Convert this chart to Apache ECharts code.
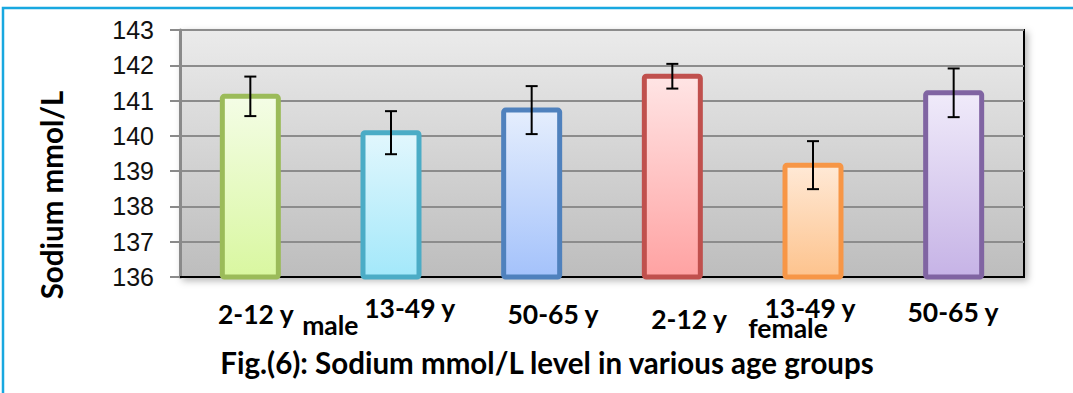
<!DOCTYPE html>
<html><head><meta charset="utf-8">
<script src="https://cdn.jsdelivr.net/npm/echarts@6/dist/echarts.min.js"></script>
<style>html,body{margin:0;padding:0;background:#fff;overflow:hidden}#c{width:1073px;height:393px}</style>
</head><body><div id="c"></div>
<script>
// ---- data ----
const categories = ['2-12 y', '13-49 y', '50-65 y', '2-12 y', '13-49 y', '50-65 y'];
const groupLabels = ['male', 'female'];
const sodiumMean = [141.12, 140.09, 140.73, 141.69, 139.17, 141.22];
const sodiumSD = [0.56, 0.61, 0.68, 0.35, 0.68, 0.69];
const yMin = 136, yMax = 143, yStep = 1;
const yAxisTitle = 'Sodium mmol/L';
const figTitle = 'Fig.(6): Sodium mmol/L level in various age groups';

// ---- styles ----
const barBorder = ['#9bbb59', '#4bacc6', '#4f81bd', '#c0504d', '#f79646', '#8064a2'];
const barFillTop = ['#f4fde6', '#e2f7fd', '#e5eefd', '#ffe5e5', '#ffe9d6', '#f0ebfa'];
const barFillBot = ['#d9f7a0', '#a3e8fa', '#a4c2fb', '#ffa2a2', '#fdc38d', '#c6b3e6'];
// label placement (pixel offsets from bar centre / plot bottom)
const catDx = [5.5, 18.7, 21.3, 16.7, -3, -0.7];
const catDy = [37, 30.5, 37, 42, 30.5, 34.7];
const groupAt = [{cat: 0, dx: 80, dy: 48}, {cat: 4, dx: -25, dy: 51}];
const CAT_FONT = 'bold 26.5px Lato';
const TITLE_FONT = 'bold 29.5px Lato';
const YTITLE_FONT = 'bold 29.5px Lato';
const BAR_W = 56, BAR_LINE = 5;

const chart = echarts.init(document.getElementById('c'), null, {renderer: 'svg'});

const grad = (a, b) => new echarts.graphic.LinearGradient(0, 0, 0, 1, [{offset: 0, color: a}, {offset: 1, color: b}]);

const GRID = {left: 180, right: 49, top: 30, bottom: 116};

chart.setOption({
  animation: false,
  grid: Object.assign({
    show: true,
    backgroundColor: grad('#ebebeb', '#bdbdbd'),
    borderColor: '#000', borderWidth: 2,
    shadowColor: 'rgba(0,0,0,0.28)', shadowBlur: 7, shadowOffsetX: 3, shadowOffsetY: 3
  }, GRID),
  xAxis: {
    type: 'category', data: categories,
    axisLine: {show: true, lineStyle: {color: '#000', width: 2}},
    axisTick: {show: false}, axisLabel: {show: false}, splitLine: {show: false}
  },
  yAxis: {
    type: 'value', min: yMin, max: yMax, interval: yStep,
    axisLine: {show: true, lineStyle: {color: '#8a8a8a', width: 3}},
    axisTick: {show: true, length: 10, lineStyle: {color: '#8a8a8a', width: 2}},
    axisLabel: {margin: 26, fontFamily: 'Liberation Sans', fontSize: 25, color: '#111'},
    splitLine: {show: true, lineStyle: {color: '#8c8c8c', width: 2}}
  },
  series: [
    {
      // bars: stroke centred on the value edge (as in the source chart)
      type: 'custom', z: 3, clip: false,
      data: sodiumMean.map((v, i) => [i, v]),
      encode: {x: 0, y: 1},
      renderItem(params, api) {
        const i = api.value(0), m = api.value(1);
        const top = api.coord([i, m]), base = api.coord([i, yMin]);
        return {
          type: 'rect',
          shape: {x: top[0] - BAR_W / 2, y: top[1], width: BAR_W, height: base[1] - top[1], r: 2},
          style: {fill: grad(barFillTop[i], barFillBot[i]), stroke: barBorder[i], lineWidth: BAR_LINE, lineJoin: 'round'}
        };
      }
    },
    {
      type: 'custom', z: 5,
      data: sodiumMean.map((v, i) => [i, v, sodiumSD[i]]),
      encode: {x: 0, y: 1},
      renderItem(params, api) {
        const i = api.value(0), m = api.value(1), e = api.value(2);
        const hi = api.coord([i, m + e]), lo = api.coord([i, m - e]);
        const hw = 6, st = {stroke: '#000', lineWidth: 2};
        return {type: 'group', children: [
          {type: 'line', shape: {x1: hi[0], y1: hi[1], x2: lo[0], y2: lo[1]}, style: st},
          {type: 'line', shape: {x1: hi[0] - hw, y1: hi[1], x2: hi[0] + hw, y2: hi[1]}, style: st},
          {type: 'line', shape: {x1: lo[0] - hw, y1: lo[1], x2: lo[0] + hw, y2: lo[1]}, style: st}
        ]};
      }
    }
  ]
});

// text placed via the library's axis scale
const H = 393, bottomY = H - GRID.bottom;
const txt = (text, x, y, font, extra) => Object.assign({
  type: 'text', x: x, y: y, z: 10,
  style: {text: text, font: font, fill: '#000', textAlign: 'center', textVerticalAlign: 'middle', align: 'center', verticalAlign: 'middle'}
}, extra || {});
const g = [];
g.push({type: 'rect', z: -1, shape: {x: 3, y: 8, width: 1200, height: 500}, style: {fill: 'none', stroke: '#18a8e0', lineWidth: 2.5}});
categories.forEach((c, i) => {
  const x = chart.convertToPixel({xAxisIndex: 0}, i);
  g.push(txt(c, x + catDx[i], bottomY + catDy[i], CAT_FONT));
});
groupAt.forEach((p, k) => {
  const x = chart.convertToPixel({xAxisIndex: 0}, p.cat);
  g.push(txt(groupLabels[k], x + p.dx, bottomY + p.dy, CAT_FONT));
});
g.push(txt(figTitle, 547, 362, TITLE_FONT));
g.push(txt(yAxisTitle, 51, 195, YTITLE_FONT, {rotation: Math.PI / 2}));
chart.setOption({graphic: g});
</script></body></html>
